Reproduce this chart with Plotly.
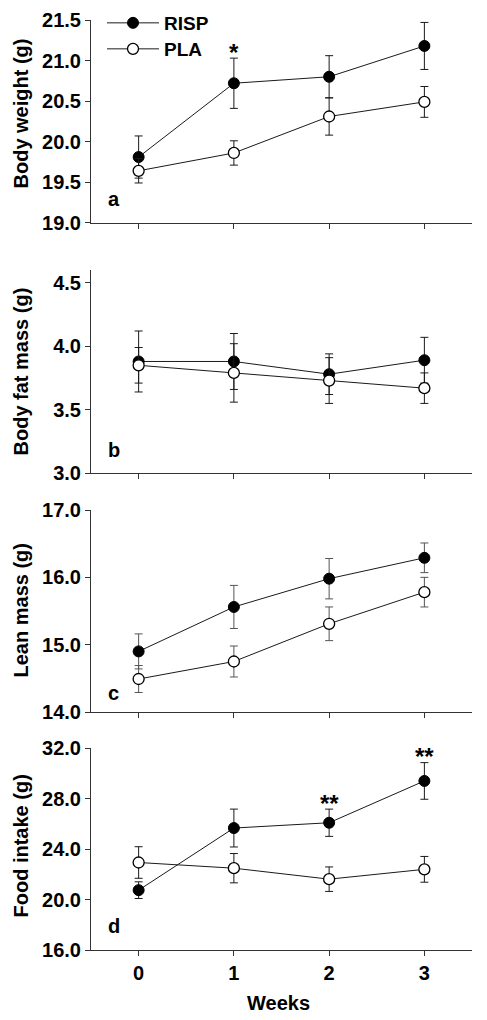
import plotly.graph_objects as go

# ---------------- data ----------------
weeks = [0, 1, 2, 3]
week_labels = ["0", "1", "2", "3"]

bw_risp = [19.81, 20.72, 20.80, 21.18]
bw_risp_err = [0.26, 0.31, 0.26, 0.29]
bw_pla = [19.64, 19.86, 20.31, 20.49]
bw_pla_err = [0.15, 0.15, 0.23, 0.19]

fat_risp = [3.88, 3.88, 3.78, 3.89]
fat_risp_err = [0.24, 0.22, 0.16, 0.18]
fat_pla = [3.85, 3.79, 3.73, 3.67]
fat_pla_err = [0.14, 0.23, 0.18, 0.12]

lean_risp = [14.90, 15.56, 15.98, 16.29]
lean_risp_err = [0.26, 0.32, 0.30, 0.22]
lean_pla = [14.49, 14.75, 15.31, 15.78]
lean_pla_err = [0.20, 0.23, 0.25, 0.22]

food_risp = [20.74, 25.66, 26.08, 29.39]
food_risp_err = [0.66, 1.50, 1.08, 1.45]
food_pla = [22.93, 22.48, 21.61, 22.39]
food_pla_err = [1.25, 1.16, 0.97, 1.02]

panel_titles = ["Body weight (g)", "Body fat mass (g)", "Lean mass (g)", "Food intake (g)"]
panel_letters = ["a", "b", "c", "d"]
y_ranges = [[19.0, 21.5], [3.0, 4.6], [14.0, 17.0], [16.0, 32.0]]
y_ticks = [
    [19.0, 19.5, 20.0, 20.5, 21.0, 21.5],
    [3.0, 3.5, 4.0, 4.5],
    [14.0, 15.0, 16.0, 17.0],
    [16.0, 20.0, 24.0, 28.0, 32.0],
]
# significance marks: (panel index, week index, label)
sig_marks = [(0, 1, "*"), (3, 2, "**"), (3, 3, "**")]

risp_series = [bw_risp, fat_risp, lean_risp, food_risp]
risp_errs = [bw_risp_err, fat_risp_err, lean_risp_err, food_risp_err]
pla_series = [bw_pla, fat_pla, lean_pla, food_pla]
pla_errs = [bw_pla_err, fat_pla_err, lean_pla_err, food_pla_err]

# ---------------- layout geometry ----------------
OFF = 8                      # page body margin offset
W, H = 487 - OFF, 1020 - OFF  # figure size
FONT = "Liberation Sans, Arial, Helvetica, sans-serif"


def fx(px):
    return (px - OFF) / W


def fy(py):
    return 1 - (py - OFF) / H


x_dom = [fx(91), fx(472)]
# screen-pixel top/bottom of each panel's plotting area
panel_px = [(20, 222.7), (270, 473.3), (510, 712), (748, 950)]
y_doms = [[fy(b), fy(t)] for t, b in panel_px]
title_px = [114, 372, 611, 846]
letter_px = [(106, 199), (106, 450), (106, 693), (106, 926)]
err_colors = ["#1a1a1a", "#1a1a1a", "#555555", "#1a1a1a"]

fig = go.Figure()

for i in range(4):
    ax = "" if i == 0 else str(i + 1)
    xa, ya = "x" + ax, "y" + ax
    fig.add_trace(go.Scatter(
        x=weeks, y=risp_series[i], xaxis=xa, yaxis=ya,
        mode="lines+markers", name="RISP", showlegend=(i == 0), legend="legend",
        line=dict(color="#1a1a1a", width=1),
        marker=dict(symbol="circle", size=11, color="#000000",
                    line=dict(color="#000000", width=1)),
        error_y=dict(type="data", array=risp_errs[i], visible=True,
                     color=err_colors[i], thickness=1, width=4),
    ))
    fig.add_trace(go.Scatter(
        x=weeks, y=pla_series[i], xaxis=xa, yaxis=ya,
        mode="lines+markers", name="PLA", showlegend=(i == 0), legend="legend2",
        line=dict(color="#1a1a1a", width=1),
        marker=dict(symbol="circle", size=11, color="#ffffff",
                    line=dict(color="#000000", width=1.3)),
        error_y=dict(type="data", array=pla_errs[i], visible=True,
                     color=err_colors[i], thickness=1, width=4),
    ))

    xkey = "xaxis" if i == 0 else "xaxis" + str(i + 1)
    ykey = "yaxis" if i == 0 else "yaxis" + str(i + 1)
    fig.layout[xkey] = dict(
        domain=x_dom, range=[-0.5, 3.5], anchor=ya,
        tickmode="array", tickvals=weeks, ticktext=week_labels,
        showticklabels=(i == 3), ticks="outside", ticklen=5, tickwidth=1,
        tickcolor="#333333", showline=True, linecolor="#333333", linewidth=1,
        showgrid=False, zeroline=False, automargin=False,
        tickfont=dict(family=FONT, size=20, color="#000000", weight="bold"),
    )
    fig.layout[ykey] = dict(
        domain=y_doms[i], range=y_ranges[i], anchor=xa,
        tickmode="array", tickvals=y_ticks[i],
        ticktext=["%.1f" % v for v in y_ticks[i]],
        ticks="outside", ticklen=5, tickwidth=1, tickcolor="#333333",
        showline=True, linecolor="#333333", linewidth=1,
        showgrid=False, zeroline=False, automargin=False,
        tickfont=dict(family=FONT, size=20, color="#000000", weight="bold"),
    )
    # y-axis title
    fig.add_annotation(
        text=panel_titles[i], xref="paper", yref="paper",
        x=fx(20.5), y=fy(title_px[i]), xanchor="center", yanchor="middle",
        textangle=-90, showarrow=False,
        font=dict(family=FONT, size=20, color="#000000", weight="bold"),
    )
    # panel letter
    lx, ly = letter_px[i]
    fig.add_annotation(
        text=panel_letters[i], xref="paper", yref="paper",
        x=fx(lx), y=fy(ly), xanchor="left", yanchor="middle",
        showarrow=False,
        font=dict(family=FONT, size=20, color="#000000", weight="bold"),
    )

# significance asterisks
for p, wk, lab in sig_marks:
    ax = "" if p == 0 else str(p + 1)
    top = risp_series[p][wk] + risp_errs[p][wk]
    fig.add_annotation(
        text=lab, x=weeks[wk], y=top, xref="x" + ax, yref="y" + ax,
        xanchor="center", yanchor="middle", yshift=6, showarrow=False,
        font=dict(family=FONT, size=24, color="#000000", weight="bold"),
    )

# x axis title
fig.add_annotation(
    text="Weeks", xref="paper", yref="paper", x=fx(278), y=fy(1003),
    xanchor="center", yanchor="middle", showarrow=False,
    font=dict(family=FONT, size=20, color="#000000", weight="bold"),
)

legend_style = dict(
    xanchor="left", yanchor="top", bgcolor="rgba(0,0,0,0)", borderwidth=0,
    font=dict(family=FONT, size=19, color="#000000", weight="bold"),
    itemwidth=52,
)

fig.update_layout(
    width=W, height=H,
    margin=dict(l=0, r=0, t=0, b=0, pad=0, autoexpand=False),
    paper_bgcolor="#ffffff", plot_bgcolor="#ffffff",
    legend=dict(x=fx(102), y=fy(4), **legend_style),
    legend2=dict(x=fx(102), y=fy(30), **legend_style),
)

fig.write_html("out.html")
